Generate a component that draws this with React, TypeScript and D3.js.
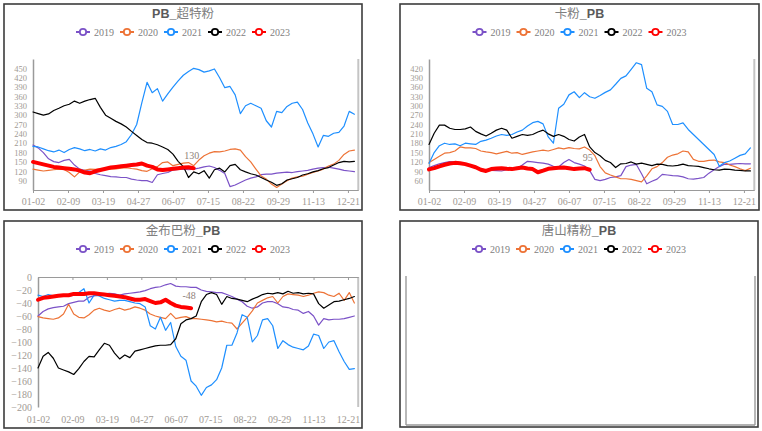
import React, { useRef, useEffect } from "react";
import * as d3 from "d3";

// x axis is trading days; a date label every 27 days
const dateLabels = ["01-02", "02-09", "03-19", "04-27", "06-07", "07-15", "08-22", "09-29", "11-13", "12-21"];
const labelStep = 27;
const dayCount = 251;
const sampleStep = 4;

const years = ["2019", "2020", "2021", "2022", "2023"];
const yearColors = ["#7b52c7", "#ed7336", "#1e8fff", "#000000", "#ff0000"];

// PB_超特粉
const cst2019 = [
  204, 195, 180, 160, 151, 148, 155, 158,
  140, 127, 123, 121, 113, 109, 106, 103,
  102, 100, 100, 95, 92, 90, 90, 84,
  109, 113, 116, 124, 126, 127, 125, 127,
  130, 134, 137, 132, 123, 113, 71, 76,
  84, 92, 98, 102, 109, 111, 111, 114,
  116, 117, 116, 119, 121, 123, 127, 130,
  132, 133, 130, 127, 123, 121, 119,
];
const cst2020 = [
  127, 124, 121, 123, 125, 127, 126, 116,
  102, 118, 124, 127, 126, 128, 126, 127,
  128, 130, 132, 129, 127, 122, 120, 128,
  135, 148, 150, 138, 142, 146, 148, 138,
  156, 170, 178, 183, 182, 185, 190, 192,
  188, 167, 150, 127, 105, 95, 79, 68,
  79, 90, 98, 102, 104, 111, 116, 121,
  127, 137, 143, 155, 174, 185, 188,
];
const cst2021 = [
  200, 198, 192, 186, 182, 188, 180, 190,
  196, 192, 186, 190, 185, 192, 188, 196,
  200, 206, 215, 238, 270, 340, 405, 372,
  385, 345, 368, 390, 410, 428, 440, 450,
  446, 438, 442, 448, 420, 388, 392, 365,
  305, 330, 338, 330, 322, 282, 262, 312,
  308, 328, 338, 342, 318, 275, 240, 198,
  235, 232, 242, 245, 265, 312, 303,
];
const cst2022 = [
  310, 305, 300, 304, 315, 322, 330, 335,
  345, 338, 345, 350, 354, 325, 300, 290,
  280, 272, 262, 248, 235, 222, 212, 210,
  205, 198, 190, 175, 152, 135, 100, 118,
  112, 122, 98, 125, 130, 118, 138, 142,
  125, 118, 112, 108, 100, 92, 85, 75,
  80, 92, 96, 100, 108, 112, 118, 122,
  128, 132, 140, 148, 152, 150, 152,
];
const cst2023 = [
  150, 146, 142, 138, 134, 132, 130, 128,
  126, 122, 116, 114, 120, 124, 128, 132,
  134, 136, 138, 140, 142, 145, 138, 134,
  126, 124, 126, 128, 130, 132, 133, 130,
];
const cstTicks = [90, 120, 150, 180, 210, 240, 270, 300, 330, 360, 390, 420, 450];

// 卡粉_PB
const kf2019 = [
  102, 108, 114, 118, 121, 120, 118, 115,
  110, 102, 97, 95, 93, 92, 91, 95,
  97, 100, 110, 122, 120, 118, 116, 113,
  106, 104, 118, 128, 118, 113, 107, 92,
  64, 60, 64, 70, 72, 76, 105, 110,
  112, 82, 50, 58, 65, 80, 78, 76,
  75, 72, 66, 65, 67, 70, 84, 95,
  105, 113, 112, 114, 115, 114, 114,
];
const kf2020 = [
  118, 128, 138, 148, 150, 155, 168, 165,
  165, 163, 155, 152, 150, 146, 150, 154,
  148, 150, 144, 148, 152, 155, 158, 155,
  160, 165, 162, 166, 163, 162, 168, 158,
  140, 105, 85, 78, 72, 66, 66, 64,
  60, 56, 75, 98, 105, 118, 135, 142,
  146, 155, 152, 128, 122, 122, 125, 126,
  120, 118, 110, 105, 98, 92, 100,
];
const kf2021 = [
  115, 150, 172, 180, 176, 178, 172, 180,
  178, 176, 186, 190, 196, 203, 208, 205,
  208, 216, 222, 235, 246, 250, 242, 200,
  180, 292, 305, 335, 345, 326, 342, 329,
  324, 333, 343, 351, 369, 388, 396, 417,
  438, 432, 356, 345, 303, 298, 282, 240,
  240, 245, 224, 208, 192, 176, 160, 144,
  106, 118, 123, 132, 141, 146, 165,
];
const kf2022 = [
  176, 212, 238, 238, 228, 224, 224, 226,
  232, 218, 210, 203, 212, 222, 228, 222,
  196, 202, 208, 205, 208, 216, 222, 210,
  202, 208, 202, 192, 187, 200, 208, 168,
  150, 140, 125, 118, 102, 114, 115, 120,
  113, 116, 112, 108, 113, 112, 108, 107,
  109, 113, 108, 107, 106, 102, 98, 95,
  94, 97, 96, 94, 93, 91, 91,
];
const kf2023 = [
  96, 100, 106, 111, 115, 117, 116, 113,
  108, 103, 95, 91, 97, 99, 100, 98,
  97, 100, 102, 99, 97, 87, 92, 98,
  100, 101, 102, 100, 97, 99, 100, 95,
];
const kfTicks = [60, 90, 120, 150, 180, 210, 240, 270, 300, 330, 360, 390, 420];

// 金布巴粉_PB
const jbb2019 = [
  -60, -53, -49, -47, -46, -45, -41, -39,
  -37, -37, -31, -29, -28, -26, -25, -26,
  -28, -26, -25, -24, -23, -21, -18, -16,
  -15, -12, -10, -14, -15, -15, -16, -16,
  -20, -22, -23, -24, -24, -27, -30, -34,
  -38, -45, -48, -46, -40, -38, -38, -41,
  -46, -47, -50, -51, -56, -53, -60, -74,
  -64, -66, -65, -65, -64, -62, -60,
];
const jbb2020 = [
  -61, -63, -64, -65, -63, -57, -42, -57,
  -62, -63, -58, -51, -48, -51, -53, -50,
  -48, -51, -49, -46, -48, -51, -57, -60,
  -62, -64, -56, -64, -62, -61, -64, -64,
  -65, -66, -67, -69, -68, -70, -71, -80,
  -71, -62, -52, -40, -36, -32, -30, -40,
  -30, -26, -27, -28, -30, -28, -25, -23,
  -24, -28, -30, -25, -36, -24, -40,
];
const jbb2021 = [
  -28, -30, -27, -29, -30, -27, -30, -28,
  -24, -18, -40, -28, -29, -33, -35, -37,
  -36, -36, -38, -40, -41, -46, -75, -80,
  -62, -82, -70, -107, -122, -128, -160, -168,
  -182, -170, -166, -158, -140, -105, -105, -86,
  -58, -62, -100, -90, -66, -64, -75, -110,
  -98, -104, -108, -110, -112, -106, -88, -90,
  -110, -100, -98, -115, -130, -142, -141,
];
const jbb2022 = [
  -140, -122, -116, -125, -140, -143, -146, -150,
  -141, -130, -122, -123, -112, -102, -105, -117,
  -126, -120, -124, -114, -112, -110, -108, -106,
  -105, -105, -104, -95, -72, -66, -64, -60,
  -38, -27, -24, -27, -42, -30, -33, -34,
  -36, -38, -34, -31, -27, -25, -26, -24,
  -26, -22, -25, -24, -26, -25, -26, -41,
  -48, -43, -38, -37, -35, -33, -30,
];
const jbb2023 = [
  -35, -32, -31, -30, -29, -28, -28, -26,
  -26, -26, -25, -25, -26, -27, -28, -29,
  -30, -31, -33, -35, -35, -34, -37, -40,
  -39, -35, -40, -44, -46, -47, -48,
];
const jbbTicks = [0, -20, -40, -60, -80, -100, -120, -140, -160, -180, -200];

type Panel = {
  title: [string, boolean][];
  box: { x: number; y: number; w: number; h: number };
  plot?: { left: number; right: number; top: number; bottom: number };
  yDomain?: [number, number];
  yTicks?: number[];
  yFont?: number;
  series?: number[][];
  zeroAxisTop?: boolean;
};

const panels: Panel[] = [
  {
    title: [["PB_", true], ["超特粉", false]],
    box: { x: 4, y: 4, w: 358, h: 206 },
    plot: { left: 33, right: 358.3, top: 59, bottom: 190 },
    yDomain: [60, 480],
    yTicks: cstTicks,
    yFont: 8.5,
    series: [cst2019, cst2020, cst2021, cst2022, cst2023],
  },
  {
    title: [["卡粉", false], ["_PB", true]],
    box: { x: 400, y: 4, w: 359, h: 206 },
    plot: { left: 429, right: 754.3, top: 59, bottom: 190 },
    yDomain: [30, 450],
    yTicks: kfTicks,
    yFont: 8.5,
    series: [kf2019, kf2020, kf2021, kf2022, kf2023],
  },
  {
    title: [["金布巴粉", false], ["_PB", true]],
    box: { x: 4, y: 221, w: 358, h: 207 },
    plot: { left: 38, right: 358.2, top: 277, bottom: 407 },
    yDomain: [-200, 0],
    yTicks: jbbTicks,
    yFont: 10,
    series: [jbb2019, jbb2020, jbb2021, jbb2022, jbb2023],
    zeroAxisTop: true,
  },
  {
    title: [["唐山精粉", false], ["_PB", true]],
    box: { x: 400, y: 221, w: 358, h: 206 },
  },
];

const serif = "'Liberation Serif', 'DejaVu Serif', serif";
const tickColor = "#a19a94";

const App = () => {
  const svgRef = useRef<SVGSVGElement | null>(null);

  useEffect(() => {
    const svg = d3.select(svgRef.current);
    svg.selectAll("*").remove();

    panels.forEach((p) => {
      const g = svg.append("g");
      const { x: bx, y: by, w: bw, h: bh } = p.box;
      const cx = bx + bw / 2;

      g.append("rect")
        .attr("x", bx).attr("y", by).attr("width", bw).attr("height", bh)
        .attr("fill", "#fff").attr("stroke", "#3c3c3c").attr("stroke-width", 1.6);

      // 标题
      const title = g.append("text")
        .attr("x", cx).attr("y", by + 13.5)
        .attr("text-anchor", "middle").attr("font-size", 12.5);
      p.title.forEach(([t, bold]) => {
        title.append("tspan").text(t)
          .attr("font-family", bold ? "'Liberation Sans', Arial, sans-serif" : "'Noto Sans CJK SC', sans-serif")
          .attr("font-weight", bold ? 700 : 400)
          .attr("fill", bold ? "#5a5a5a" : "#808080");
      });

      // 图例
      const ly = by + 28;
      years.forEach((yr, k) => {
        const sx = cx - 100 + k * 44;
        g.append("line")
          .attr("x1", sx - 7).attr("x2", sx + 7).attr("y1", ly).attr("y2", ly)
          .attr("stroke", yearColors[k]).attr("stroke-width", 2);
        g.append("circle")
          .attr("cx", sx).attr("cy", ly).attr("r", 3.2)
          .attr("fill", "#fff").attr("stroke", yearColors[k]).attr("stroke-width", 1.8);
        g.append("text")
          .attr("x", sx + 11).attr("y", ly + 3.5)
          .attr("font-family", serif).attr("font-size", 10).attr("fill", "#808080")
          .text(yr);
      });

      if (!p.plot || !p.series || !p.yDomain || !p.yTicks) {
        // 空图: 只有边线
        const l = bx + 6, r = bx + 355, t = by + 55, b = by + 204;
        g.append("path").attr("d", `M${l},${t}V${b}`).attr("stroke", "#b8b8b8").attr("stroke-width", 2);
        g.append("path").attr("d", `M${r},${t}V${b}`).attr("stroke", "#b8b8b8").attr("stroke-width", 2);
        g.append("path").attr("d", `M${l},${b}H${r}`).attr("stroke", "#999").attr("stroke-width", 1.5);
        return;
      }

      const { left, right, top, bottom } = p.plot;
      const xScale = d3.scaleLinear().domain([0, dayCount]).range([left, right]);
      const yScale = d3.scaleLinear().domain(p.yDomain).range([bottom, top]);
      const tickIdx = dateLabels.map((_, i) => i * labelStep);

      // right border line
      g.append("line")
        .attr("x1", right).attr("x2", right).attr("y1", top).attr("y2", bottom)
        .attr("stroke", "#c4c4c4").attr("stroke-width", 2);

      // y axis
      const yAxis = g.append("g")
        .attr("transform", `translate(${left},0)`)
        .call(d3.axisLeft(yScale).tickValues(p.yTicks).tickSize(0).tickPadding(6));
      yAxis.select(".domain").attr("stroke", "#9a9a9a").attr("stroke-width", 1.5);
      yAxis.selectAll("text").attr("font-family", serif).attr("font-size", p.yFont ?? 10).attr("fill", tickColor);

      // x axis
      const axisY = p.zeroAxisTop ? yScale(0) : bottom;
      const xAxis = g.append("g")
        .attr("transform", `translate(0,${axisY})`)
        .call(d3.axisBottom(xScale).tickValues(tickIdx).tickSize(3).tickSizeOuter(0)
          .tickFormat(() => ""));
      xAxis.select(".domain").attr("stroke", "#9a9a9a").attr("stroke-width", 1.2);
      xAxis.selectAll("line").attr("stroke", "#9a9a9a");

      const xLabels = g.append("g")
        .attr("transform", `translate(0,${bottom})`)
        .call(d3.axisBottom(xScale).tickValues(tickIdx).tickSize(0)
          .tickPadding(p.zeroAxisTop ? 9 : 8)
          .tickFormat((d) => dateLabels[Math.round(+d / labelStep)]));
      xLabels.select(".domain").remove();
      xLabels.selectAll("text").attr("font-family", serif).attr("font-size", 10).attr("fill", tickColor);

      // lines
      const line = d3.line<number>()
        .x((_, i) => xScale(i * sampleStep))
        .y((d) => yScale(d));

      p.series.forEach((vals, k) => {
        const isLatest = k === p.series!.length - 1;
        g.append("path")
          .datum(vals)
          .attr("d", line)
          .attr("fill", "none")
          .attr("stroke", yearColors[k])
          .attr("stroke-width", isLatest ? 4 : 1.2)
          .attr("stroke-linejoin", "round")
          .attr("stroke-linecap", "round");
      });

      // last value label of 2023
      const latest = p.series[p.series.length - 1];
      const lastI = latest.length - 1;
      g.append("text")
        .attr("x", xScale(lastI * sampleStep) - 2)
        .attr("y", yScale(latest[lastI]) - 9)
        .attr("text-anchor", "middle")
        .attr("font-family", serif).attr("font-size", 10).attr("fill", "#8f8279")
        .text(latest[lastI]);
    });
  }, []);

  return (
    <svg
      ref={svgRef}
      width={762}
      height={431}
      style={{ position: "absolute", left: 0, top: 0, background: "#fff" }}
    ></svg>
  );
};

export default App;
